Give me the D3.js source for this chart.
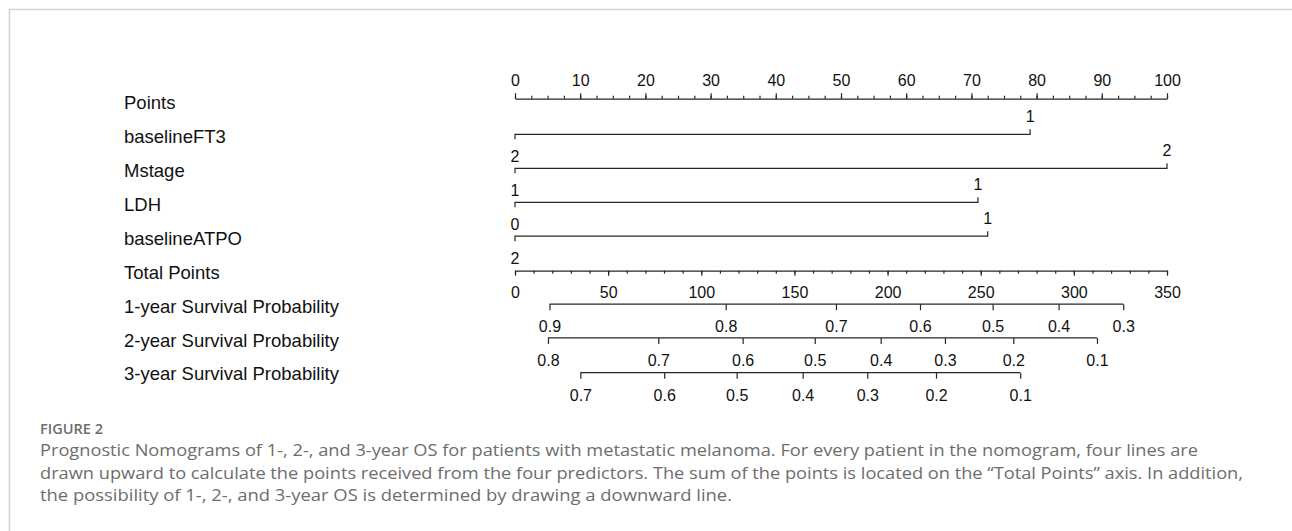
<!DOCTYPE html>
<meta charset="utf-8">
<script src="https://d3js.org/d3.v7.min.js"></script>
<style>
  body { margin: 0; background: #fff; }
  svg text { font-family: 'Liberation Sans', Arial, sans-serif; }
  .caption text { font-family: 'Open Sans', sans-serif; fill: #6d6d6d; }
</style>
<div id="chart"></div>
<script>

// row names, top to bottom
var rowNames = ["Points", "baselineFT3", "Mstage", "LDH", "baselineATPO", "Total Points",
  "1-year Survival Probability", "2-year Survival Probability", "3-year Survival Probability"];

// points axis + total points axis tick labels
var pointTicks = [0, 10, 20, 30, 40, 50, 60, 70, 80, 90, 100];
var totalTicks = [0, 50, 100, 150, 200, 250, 300, 350];

// predictors: points given to the higher level
var predictors = ["baselineFT3", "Mstage", "LDH", "baselineATPO"];
var predictorPoints = [79, 100, 71, 72.5];
var lowLevels = ["2", "1", "0", "2"];   // label under the left end
var highLevels = ["1", "2", "1", "1"];  // label over the right end

// survival probabilities and the total points where they sit
var surv1Probs = [0.9, 0.8, 0.7, 0.6, 0.5, 0.4, 0.3];
var surv1Points = [18.5, 113.1, 172.3, 217.4, 256.4, 291.8, 326.5];
var surv2Probs = [0.8, 0.7, 0.6, 0.5, 0.4, 0.3, 0.2, 0.1];
var surv2Points = [17.7, 76.9, 122.2, 160.9, 196.3, 230.8, 267.5, 312.4];
var surv3Probs = [0.7, 0.6, 0.5, 0.4, 0.3, 0.2, 0.1];
var surv3Points = [35.1, 80.1, 119, 154.4, 189.1, 226, 271.2];

var captionLines = [
  "Prognostic Nomograms of 1-, 2-, and 3-year OS for patients with metastatic melanoma. For every patient in the nomogram, four lines are",
  "drawn upward to calculate the points received from the four predictors. The sum of the points is located on the \u201cTotal Points\u201d axis. In addition,",
  "the possibility of 1-, 2-, and 3-year OS is determined by drawing a downward line."
];
var captionWidths = [1158, 1203, 692];

var width = 1292, height = 531;
var lineY = [98.7, 134.3, 168.3, 202.3, 236.2, 270.7, 304.2, 337.9, 372.7];
var ink = "#262626";

var svg = d3.select("#chart").append("svg")
  .attr("width", width)
  .attr("height", height);

// frame of the figure box
svg.append("path")
  .attr("d", "M9.5," + height + "V9.5H" + width)
  .attr("fill", "none")
  .attr("stroke", "#d2d2d2")
  .attr("stroke-width", 1.5);

var xPts = d3.scaleLinear().domain([0, 100]).range([515, 1167]);
var xTot = d3.scaleLinear().domain([0, 350]).range([515, 1167]);

// row labels
svg.append("g").selectAll("text")
  .data(rowNames)
  .enter().append("text")
    .attr("x", 124)
    .attr("y", function(d, i) { return 109.2 + i * 33.9; })
    .style("font-size", "18.5px")
    .style("fill", "#111")
    .text(function(d) { return d; });

function styleAxis(g) {
  g.selectAll("line").attr("stroke", ink).attr("stroke-width", 1.2);
  g.selectAll("path").attr("stroke", ink).attr("stroke-width", 1.2);
  g.selectAll("text").style("font-size", "16px").style("fill", "#111")
    .style("font-family", "'Liberation Sans', Arial, sans-serif");
}

// Points axis (ticks up)
var gPts = svg.append("g").attr("transform", "translate(0," + lineY[0] + ")");
gPts.append("g")
  .call(d3.axisTop(xPts).tickValues(d3.range(0, 100.1, 2.5)).tickSize(3).tickFormat(""))
  .call(function(g) { g.select(".domain").remove(); })
  .call(styleAxis);
gPts.append("g")
  .call(d3.axisTop(xPts).tickValues(pointTicks).tickSize(5.5).tickSizeOuter(0).tickPadding(7))
  .call(styleAxis);

// predictor rows
predictors.forEach(function(p, i) {
  var y = lineY[i + 1];
  var g = svg.append("g");
  var x0 = xPts(0), x1 = xPts(predictorPoints[i]);
  g.append("path")
    .attr("d", "M" + x0 + "," + (y + 5) + "V" + y + "H" + x1 + "V" + (y - 5))
    .attr("fill", "none").attr("stroke", ink).attr("stroke-width", 1.2);
  g.append("text")
    .attr("x", x0).attr("y", y + 27.5)
    .attr("text-anchor", "middle")
    .style("font-size", "16px").style("fill", "#111")
    .text(lowLevels[i]);
  g.append("text")
    .attr("x", x1).attr("y", y - 12.5)
    .attr("text-anchor", "middle")
    .style("font-size", "16px").style("fill", "#111")
    .text(highLevels[i]);
});

// Total Points axis (ticks down)
var gTot = svg.append("g").attr("transform", "translate(0," + lineY[5] + ")");
gTot.append("g")
  .call(d3.axisBottom(xTot).tickValues(d3.range(0, 351, 10)).tickSize(3).tickFormat(""))
  .call(function(g) { g.select(".domain").remove(); })
  .call(styleAxis);
gTot.append("g")
  .call(d3.axisBottom(xTot).tickValues(totalTicks).tickSize(5).tickSizeOuter(0).tickPadding(11))
  .call(styleAxis);

// survival axes
[[surv1Probs, surv1Points], [surv2Probs, surv2Points], [surv3Probs, surv3Points]].forEach(function(s, k) {
  var probs = s[0], pts = s[1];
  var g = svg.append("g").attr("transform", "translate(0," + lineY[6 + k] + ")");
  g.append("line")
    .attr("x1", xTot(d3.min(pts))).attr("x2", xTot(d3.max(pts)))
    .attr("y1", 0).attr("y2", 0);
  g.append("g")
    .call(d3.axisBottom(xTot).tickValues(pts).tickSize(6).tickPadding(10.5)
      .tickFormat(function(d, i) { return probs[i].toFixed(1); }))
    .call(function(g) { g.select(".domain").remove(); })
    .call(styleAxis);
  g.selectAll("line").attr("stroke", ink).attr("stroke-width", 1.2);
});

// caption
var cap = svg.append("g").attr("class", "caption");
cap.append("text")
  .attr("x", 40).attr("y", 433.5)
  .attr("textLength", 63)
  .attr("lengthAdjust", "spacingAndGlyphs")
  .style("font-size", "14.5px")
  .style("font-weight", 600)
  .text("FIGURE 2");
cap.selectAll("text.line")
  .data(captionLines)
  .enter().append("text")
    .attr("class", "line")
    .attr("x", 40)
    .attr("y", function(d, i) { return 456 + i * 22.5; })
    .attr("textLength", function(d, i) { return captionWidths[i]; })
    .attr("lengthAdjust", "spacingAndGlyphs")
    .style("font-size", "16px")
    .text(function(d) { return d; });

</script>
